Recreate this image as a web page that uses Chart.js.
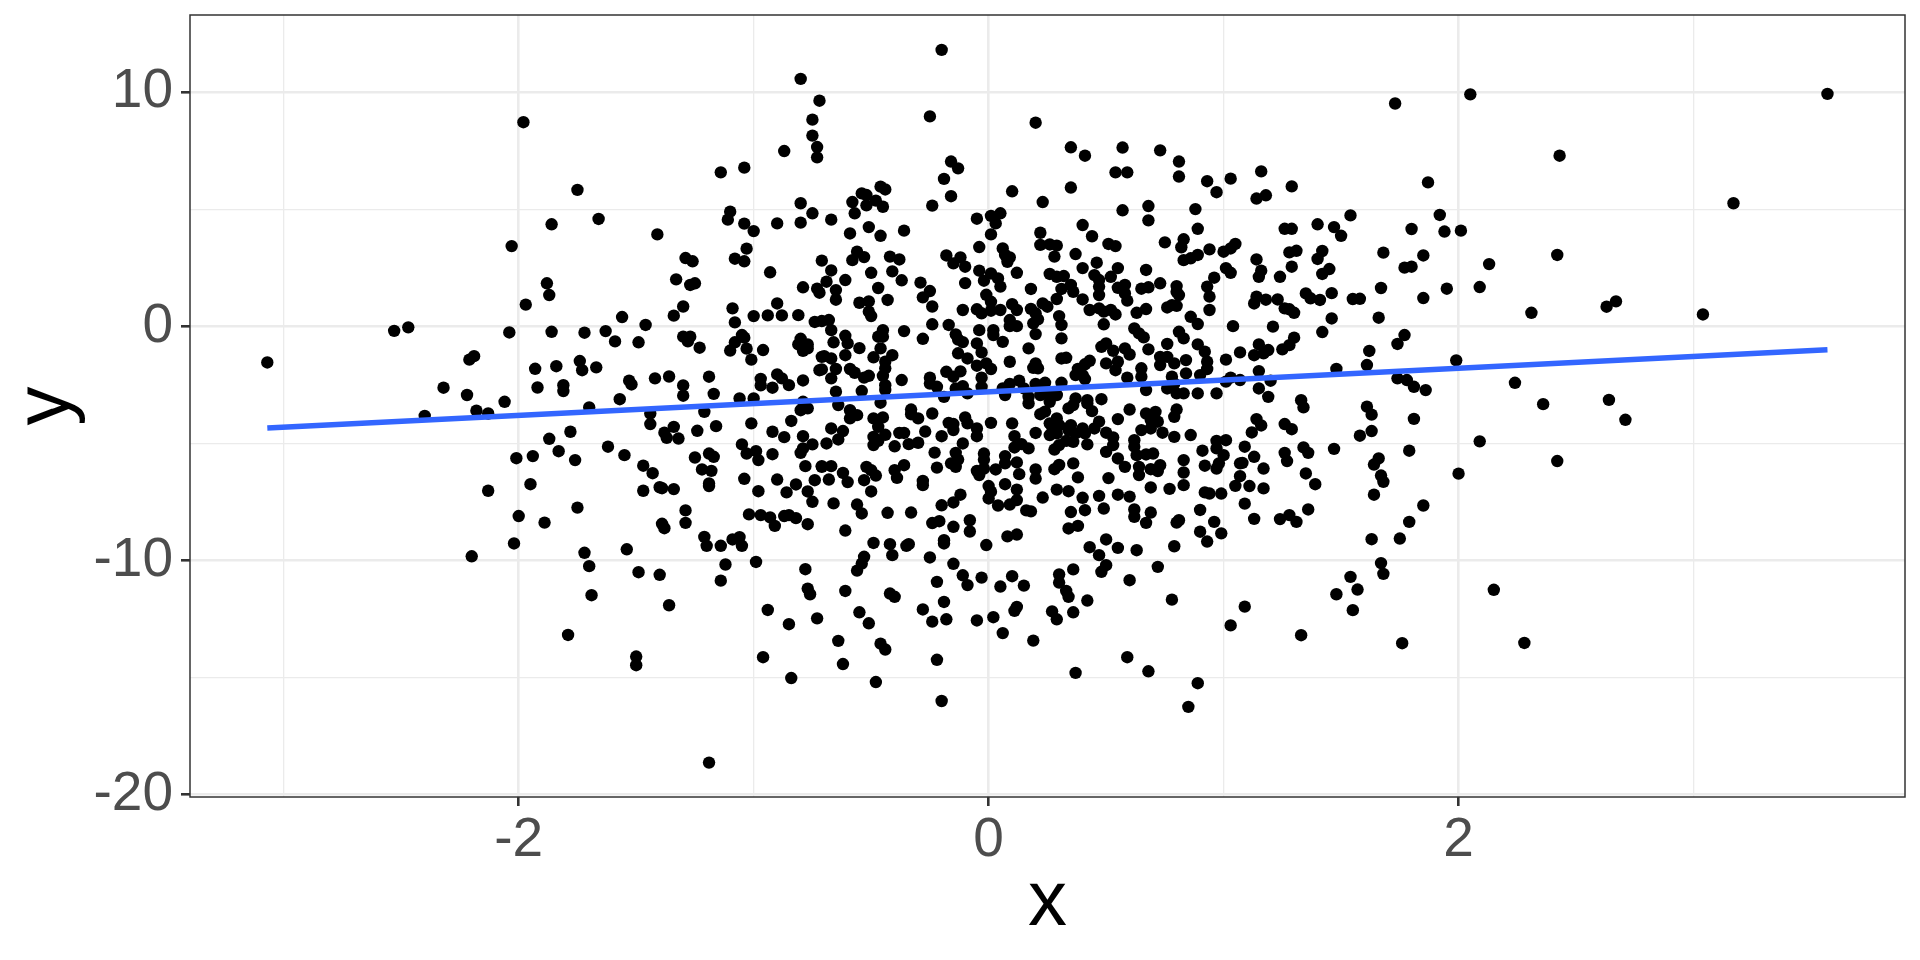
<!DOCTYPE html>
<html>
<head>
<meta charset="utf-8">
<script src="https://cdn.jsdelivr.net/npm/chart.js@4"></script>
<style>
  html, body { margin: 0; padding: 0; background: #fff; }
  #wrap { width: 1920px; height: 960px; }
</style>
</head>
<body>
<div id="wrap"><canvas id="scatter"></canvas></div>
<script>
const xValues = [
-3.07,-1.98,-1.75,-1.66,-1.86,-2.03,-1.41,-1.14,-1.04,-0.87,
-0.80,-0.72,-0.75,-0.75,-0.73,-0.73,-0.80,-0.75,-1.10,-1.11,
-1.04,-1.00,-0.90,-0.80,-1.03,-1.08,-1.04,-1.29,-1.26,-1.33,
-1.27,-1.25,-0.93,-0.79,-0.73,-0.71,-1.88,-1.87,-1.97,-1.56,
-1.30,-1.34,-1.09,-0.90,-1.00,-0.94,-0.88,-0.81,-0.74,-1.08,
-1.46,-2.47,-2.53,-2.04,-1.86,-1.72,-1.63,-1.59,-1.49,-1.30,
-1.27,-1.28,-1.23,-1.05,-1.04,-1.08,-1.10,-1.03,-0.96,-1.01,
-0.80,-0.81,-0.77,-0.79,-0.77,-0.71,-0.71,-2.19,-2.21,-1.93,
-1.84,-1.74,-1.73,-1.67,-2.32,-2.22,-2.06,-1.92,-1.81,-1.81,
-1.53,-1.52,-1.42,-1.36,-1.30,-1.30,-1.19,-1.17,-1.06,-1.00,
-0.97,-0.97,-0.92,-0.90,-0.88,-0.85,-0.79,-1.57,-0.79,
-2.40,-2.18,-2.13,-1.70,-1.44,-1.44,-1.21,-1.16,-1.34,-1.38,
-1.37,-1.32,-1.24,-1.01,-0.92,-0.84,-0.80,-0.77,-0.87,-0.79,
-1.78,-1.87,-1.83,-2.01,-1.94,-1.76,-1.62,-1.55,-1.47,-1.43,
-1.25,-1.19,-1.17,-1.22,-1.18,-1.05,-1.03,-0.99,-0.98,-0.92,
-0.75,-0.79,-0.80,-0.78,-0.71,-1.04,-0.90,-0.82,-0.74,-0.77,
-0.75,-0.86,-0.98,-1.19,-1.19,-1.47,-1.40,-1.39,-1.34,-2.13,
-1.95,-1.75,-2.00,-1.89,-2.02,-2.20,-1.72,-1.70,-1.54,-1.49,
-1.40,-1.69,-1.36,-1.79,-1.50,-1.50,-1.19,-1.29,-1.29,-1.39,
-1.38,-1.21,-1.20,-1.14,-1.09,-1.06,-1.05,-1.12,-1.14,-0.99,
-1.02,-0.97,-0.93,-0.91,-0.87,-0.85,-0.82,-0.77,-0.78,-0.77,
-0.76,-0.94,-0.85,-0.73,-0.96,-0.84,
-0.20,-0.25,0.20,1.73,-0.16,-0.13,-0.19,-0.16,-0.24,-0.54,
-0.52,-0.58,-0.46,-0.44,-0.48,-0.52,-0.45,-0.57,-0.67,-0.59,
-0.51,-0.46,-0.36,-0.67,-0.58,-0.56,-0.53,-0.42,-0.38,-0.50,
-0.41,-0.37,-0.61,-0.69,-0.65,-0.65,-0.72,-0.47,-0.43,-0.55,
-0.51,-0.51,-0.50,-0.29,-0.25,-0.28,-0.24,-0.71,-0.68,-0.67,
-0.36,-0.24,-0.17,-0.28,-0.14,-0.13,-0.11,-0.04,-0.18,-0.15,
-0.12,-0.10,-0.10,-0.11,-0.05,0.01,0.05,0.03,0.01,-0.04,
0.06,0.07,0.08,0.09,-0.04,0.01,-0.02,0.04,0.05,0.12,
0.10,0.23,0.35,0.41,0.57,0.73,0.81,0.81,0.54,0.59,
0.35,0.57,0.68,0.68,0.88,0.93,0.97,1.03,1.16,1.14,
1.18,1.29,1.87,1.54,1.92,0.40,0.44,0.51,0.54,0.22,
0.22,0.26,0.29,0.28,0.37,0.46,0.40,0.55,0.67,0.75,
0.83,0.82,0.83,0.86,0.89,0.94,0.89,1.00,1.03,1.05,
1.01,1.03,0.96,1.14,1.16,1.15,1.24,1.26,1.29,1.28,
1.31,1.29,1.40,1.47,1.50,1.42,1.40,1.45,1.42,1.68,
1.80,1.85,1.77,1.80,1.67,1.85,1.66,1.46,1.35,1.37,
1.41,1.55,1.58,1.46,1.42,1.21,1.04,1.14,1.13,1.18,
1.23,1.26,1.28,1.30,0.93,0.94,0.94,0.73,0.68,0.65,
0.58,0.55,0.58,0.59,0.52,0.45,0.47,0.47,0.47,0.40,
0.36,0.35,0.31,0.32,0.29,0.26,0.18,0.29,-0.01,0.01,
-0.05,-0.03,0.01,0.05,0.10,0.12,0.18,0.20,0.23,0.25,
0.21,0.19,0.20,0.30,0.31,0.31,0.09,0.09,0.12,0.02,
0.02,0.06,0.43,0.47,0.49,0.52,0.54,0.49,0.63,0.67,
0.62,0.64,0.66,0.81,0.83,0.76,0.80,0.78,0.80,0.80,
0.81,0.86,0.89,0.76,0.89,0.92,0.68,0.50,0.48,0.53,
0.58,0.60,0.17,0.09,-0.05,-0.03,-0.13,-0.09,-0.05,-0.01,
0.01,-0.03,-0.18,-0.15,-0.12,-0.55,-0.61,-0.66,-0.60,-0.70,
-0.67,-0.61,-0.65,-0.72,-0.67,-0.59,-0.57,-0.53,-0.51,-0.47,
-0.45,-0.45,-0.46,-0.49,-0.41,-0.44,-0.44,-0.45,-0.44,-0.44,
-0.37,-0.25,-0.25,-0.22,-0.65,-0.54,-0.14,-0.11,-0.09,-0.19,
-0.03,0.31,0.33,0.20,0.19,0.21,0.43,0.41,0.38,0.37,
0.41,0.40,0.50,0.55,0.54,0.59,0.65,0.65,0.73,0.76,
0.73,0.79,0.84,0.84,0.78,0.93,0.93,0.90,1.01,1.07,
1.15,1.13,1.17,1.19,1.25,1.28,1.30,1.62,1.61,1.74,
1.77,1.48,1.15,1.03,1.07,1.01,1.20,1.15,1.19,1.74,
1.78,1.81,1.86,0.97,0.89,0.79,0.76,0.80,0.83,0.67,
0.31,0.24,0.20,0.13,0.09,0.06,0.15,0.07,0.17,0.22,
0.26,0.29,0.37,0.42,0.48,1.33,
2.05,2.43,3.57,3.17,2.01,1.94,2.13,2.09,1.95,2.42,
2.31,2.63,2.67,3.04,1.99,2.24,2.36,2.64,
2.71,2.09,2.42,2.00,1.85,1.79,1.75,1.63,1.67,1.68,
1.54,1.57,1.48,1.55,1.33,1.76,2.15,2.28,1.81,1.79,
1.66,1.64,1.67,1.68,1.64,1.63,1.61,1.63,1.58,1.47,
1.34,1.36,1.26,1.27,1.35,1.39,1.36,1.28,1.31,1.24,
1.34,1.26,1.29,
-0.46,-0.64,-0.59,-0.56,-0.59,-0.33,-0.33,-0.30,-0.24,-0.49,
-0.45,-0.47,-0.67,-0.62,-0.64,-0.69,-0.49,-0.44,-0.47,-0.49,
-0.40,-0.34,-0.30,-0.38,-0.36,-0.27,-0.20,-0.23,-0.11,-0.17,
-0.15,-0.15,-0.10,-0.09,-0.05,-0.05,0.01,0.10,0.20,0.11,
0.14,0.11,0.17,-0.02,-0.02,-0.14,-0.13,-0.16,-0.14,-0.22,
0.07,0.12,0.07,0.03,-0.02,-0.05,-0.04,0.13,0.20,0.20,
0.07,0.00,0.01,0.00,0.12,0.12,0.09,0.04,0.23,0.29,
0.34,0.38,0.36,0.30,0.28,0.40,0.47,0.51,0.55,0.60,
0.49,0.41,0.35,0.16,0.18,0.38,0.34,0.12,0.08,-0.01,
-0.08,-0.08,-0.15,-0.21,-0.24,-0.19,-0.19,-0.25,-0.15,-0.11,
-0.09,-0.03,-0.22,-0.19,-0.28,-0.24,-0.18,-0.05,0.02,0.06,
0.19,0.05,0.10,0.15,0.12,0.11,0.27,0.29,0.36,0.42,
0.30,0.30,0.33,0.34,0.36,0.50,0.48,0.43,0.47,0.50,
0.55,0.63,0.60,0.72,0.78,0.79,0.80,0.81,0.67,0.62,
0.62,0.69,0.90,0.96,0.90,0.93,0.99,1.09,1.13,1.09,
1.03,0.59,0.68,0.37,0.89,0.85,-0.20,-0.22,-0.48,-0.62,
-0.64,-0.46,-0.44,-0.51,-0.55,-0.61,-0.42,-0.40,-0.56,-0.54,
-0.53,-0.41,-0.42,-0.35,-0.34,-0.49,-0.61,-0.43,-0.33,-0.56,
-0.54,-0.66,-0.50,-0.53,-0.60,-0.62,-0.68,-0.71,-0.67,-0.52,
-0.50,-0.48,-0.36,-0.40,-0.39,-0.28,-0.28,-0.12,-0.15,-0.20,
0.26,0.29,0.27,0.30,0.26,0.29,0.35,0.34,0.40,0.37,
0.41,0.45,0.47,0.50,0.53,0.53,0.50,0.55,0.58,0.65,
0.69,0.72,0.67,0.71,0.69,0.74,0.79,0.79,0.80,0.60,
0.55,0.44,0.42,0.36,0.34,0.24,0.22,0.17,0.26,0.86,
1.01,0.97,0.97,0.91,1.09,1.13,1.00,0.98,0.97,0.92,
0.83,0.83,0.83,0.77,0.69,0.64,0.64,0.62,0.62,0.63,
0.67,0.70,0.69,0.72,0.73,1.07,1.08,1.07,1.17,1.17,
1.11,1.05,0.99,0.94,0.92,1.12,1.14,1.16,0.36,0.42,
0.33,0.30,0.28
];
const yValues = [
-1.54,8.72,5.83,4.59,4.36,3.43,3.93,6.58,6.78,7.49,
10.57,9.64,8.83,8.15,7.66,7.22,5.26,4.83,4.90,4.56,
4.39,4.07,4.40,4.43,3.32,2.89,2.78,2.92,2.78,2.01,
1.77,1.84,2.31,1.67,1.61,2.81,1.84,1.34,0.93,0.40,
0.85,0.46,0.77,0.98,0.44,0.47,0.47,0.48,0.19,0.17,
0.06,-0.04,-0.19,-0.26,-0.23,-0.27,-0.20,-0.64,-0.68,-0.44,
-0.44,-0.64,-0.91,-0.37,-0.48,-0.68,-1.03,-0.95,-1.01,-1.42,
-0.53,-0.77,-0.77,-1.04,-0.94,-1.30,-1.84,-1.27,-1.42,-1.81,
-1.70,-1.48,-1.87,-1.75,-2.62,-2.93,-3.22,-2.61,-2.51,-2.76,
-2.32,-2.48,-2.22,-2.14,-2.52,-2.96,-2.15,-2.88,-3.08,-3.08,
-2.24,-2.52,-2.62,-2.05,-2.22,-2.51,-2.31,-3.11,-3.22,
-3.82,-3.60,-3.72,-3.46,-3.72,-4.17,-3.65,-4.26,-4.29,-4.54,
-4.76,-4.79,-4.46,-4.14,-4.50,-4.04,-3.58,-3.50,-4.73,-4.69,
-4.50,-4.80,-5.33,-5.63,-5.54,-5.71,-5.14,-5.50,-5.95,-6.27,
-5.60,-5.43,-5.57,-6.11,-6.17,-5.04,-5.43,-5.33,-5.71,-5.46,
-5.04,-5.21,-5.40,-5.97,-6.00,-6.51,-6.54,-6.75,-6.57,-7.05,
-7.49,-7.09,-7.04,-6.71,-6.82,-7.02,-6.87,-6.91,-6.95,-7.02,
-6.74,-7.74,-8.10,-8.38,-9.27,-9.82,-9.67,-10.24,-9.52,-10.50,
-10.61,-11.48,-11.91,-13.18,-14.10,-14.47,-18.63,-7.86,-8.39,-8.43,
-8.62,-8.99,-9.37,-9.37,-9.10,-9.00,-9.37,-10.17,-10.86,-10.06,
-8.03,-8.06,-8.16,-8.52,-8.10,-8.06,-8.19,-8.45,-10.37,-11.20,
-11.44,-12.11,-12.72,-12.47,-14.13,-15.02,
11.81,8.97,8.70,9.52,7.04,6.75,6.30,5.56,5.16,5.68,
5.61,5.31,5.97,5.85,5.37,5.17,5.11,4.83,4.56,3.97,
4.24,3.87,4.09,2.39,2.83,3.19,2.96,2.98,2.86,2.29,
2.35,1.97,1.98,1.91,1.55,1.14,1.44,1.64,1.13,1.01,
1.07,0.63,0.44,1.87,1.51,1.24,0.85,0.23,0.27,-0.16,
-0.20,0.09,0.06,-0.53,-0.34,-0.56,-0.67,-0.16,3.03,2.69,
2.95,2.55,1.85,0.70,4.60,4.72,4.83,4.40,3.93,3.39,
3.33,3.05,2.76,2.95,2.38,2.26,1.95,2.05,1.70,2.29,
5.77,5.31,7.65,7.29,7.64,7.52,7.04,6.40,6.58,6.58,
5.93,4.96,5.14,4.53,5.01,6.20,5.73,6.31,6.62,5.46,
5.60,5.98,6.15,4.74,4.76,4.33,3.85,3.52,3.43,4.00,
3.48,3.50,3.45,2.98,3.09,2.72,2.49,2.49,2.41,3.59,
3.72,3.38,2.83,2.91,3.05,3.29,4.17,3.19,3.33,3.52,
2.49,2.29,2.08,2.86,2.38,2.12,2.12,4.17,4.17,3.16,
3.23,2.55,4.36,4.24,3.87,3.22,2.88,2.45,2.24,3.15,
4.16,3.03,2.51,2.55,1.64,1.21,0.37,1.42,1.41,1.20,
1.13,1.17,1.18,0.34,-0.24,-0.01,0.01,1.27,0.98,1.14,
1.15,0.77,0.73,0.58,1.70,1.27,0.70,1.84,1.67,1.61,
1.77,1.65,1.41,1.10,2.12,2.19,1.98,1.70,1.34,1.15,
1.48,1.77,1.60,2.15,2.12,2.24,1.60,1.17,1.35,1.05,
0.73,0.56,0.67,0.70,0.95,0.70,0.75,0.56,0.98,0.84,
0.30,0.13,-0.33,0.44,0.06,-0.51,0.27,0.01,0.01,-0.16,
-0.37,-0.66,0.70,0.77,0.63,0.70,0.51,0.09,0.58,0.74,
-0.09,-0.30,-0.47,-0.23,-0.51,0.81,0.88,0.91,1.48,1.72,
1.34,0.41,0.10,-0.75,-0.77,-1.08,-0.98,-0.73,-0.87,-1.04,
-0.94,-1.20,-0.94,-1.51,-0.73,-1.11,-1.15,-1.37,-1.68,-1.58,
-1.82,-2.19,-1.94,-2.15,-1.92,-0.93,-0.40,-0.68,-0.73,-1.27,
-1.37,-1.23,-1.82,-1.87,-2.22,-1.82,-1.98,-2.19,-2.11,-0.44,
-0.16,-0.44,-0.94,-1.32,-1.23,-1.51,-1.79,-2.11,-2.51,-2.72,
-2.29,-2.19,-2.44,-2.58,-2.79,-2.76,-2.65,-2.55,-2.86,-3.01,
-2.58,-1.37,-1.34,-1.58,-1.77,-1.79,-1.47,-1.62,-1.82,-2.08,
-2.25,-2.08,-1.58,-1.51,-1.87,-2.19,-1.79,-2.15,-1.30,-1.30,
-1.65,-1.58,-1.44,-2.01,-2.15,-1.51,-1.82,-2.08,-1.42,-1.11,
-0.77,-1.23,-1.15,-1.01,-0.98,-0.80,-0.48,-1.05,-1.65,-0.75,
-0.37,-1.82,-1.91,-2.19,-2.29,-2.36,-2.32,-2.65,-3.01,-2.22,
-2.29,-2.58,-2.72,-2.86,-2.86,-2.44,-2.65,-2.86,-2.86,-2.72,
-2.41,-2.41,-2.46,-2.32,-2.46,-2.65,-2.65,-2.93,-3.01,-2.93,
-2.93,-2.93,-3.08,-3.15,-3.11,-3.15,
9.91,7.29,9.93,5.26,4.09,4.05,2.66,1.68,1.61,3.05,
0.58,0.84,1.07,0.51,-1.45,-2.41,-3.32,-3.14,
-3.99,-4.91,-5.75,-6.29,-7.65,-8.35,-9.06,-9.09,-10.11,-10.57,
-10.70,-11.24,-11.44,-12.12,-13.19,-13.53,-11.25,-13.52,-3.95,-5.31,
-5.64,-5.90,-6.37,-6.64,-7.19,-3.77,-3.43,-4.47,-4.67,-5.23,
-5.17,-5.40,-5.40,-5.75,-6.28,-6.74,-7.82,-8.06,-8.35,-8.23,
-3.46,-4.17,-4.39,
-3.26,-3.36,-3.58,-3.79,-3.93,-3.55,-3.75,-3.93,-3.72,-3.93,
-3.89,-4.29,-4.36,-4.47,-4.83,-5.00,-4.72,-4.63,-4.89,-5.07,
-5.12,-5.03,-4.97,-4.55,-4.55,-4.49,-4.69,-5.39,-5.00,-4.12,
-4.17,-4.43,-3.89,-4.14,-4.36,-4.69,-4.12,-4.14,-4.55,-4.69,
-5.03,-5.17,-5.21,-5.43,-5.69,-5.40,-5.69,-5.85,-6.00,-6.03,
-5.54,-5.81,-5.85,-6.11,-6.07,-6.17,-6.35,-6.31,-6.11,-6.50,
-6.74,-6.82,-7.06,-7.35,-6.97,-7.42,-7.61,-7.65,-7.31,-6.97,
-7.04,-6.45,-5.85,-5.92,-6.10,-7.32,-7.24,-6.48,-7.19,-7.27,
-7.78,-7.85,-7.93,-7.86,-7.90,-8.52,-8.63,-8.89,-8.97,-9.34,
-8.28,-8.76,-8.56,-8.32,-8.40,-9.13,-9.27,-9.87,-10.14,-10.63,
-11.05,-10.73,-10.91,-11.77,-12.09,-12.61,-12.51,-12.56,-12.42,-13.10,
-13.42,-11.11,-10.67,-11.07,-11.98,-12.15,-12.17,-12.51,-12.21,-11.71,
-10.59,-10.94,-11.30,-11.55,-10.38,-10.20,-10.48,-9.43,-9.77,-9.10,
-9.46,-9.56,-10.84,-10.27,-11.67,-9.39,-8.38,-8.28,-8.39,-7.82,
-8.13,-7.95,-7.84,-8.35,-8.77,-9.19,-8.84,-7.57,-8.22,-11.97,
-12.77,-14.13,-14.73,-14.80,-15.24,-16.25,-16.00,-14.24,-15.19,-14.42,
-13.43,-13.55,-13.80,-12.68,-12.21,-11.30,-11.41,-11.55,-10.43,-10.13,
-9.84,-9.77,-9.30,-9.37,-9.30,-9.25,-8.72,-7.96,-7.95,-7.61,
-7.99,-7.56,-7.05,-6.57,-6.65,-6.26,-6.54,-5.97,-5.97,-6.00,
-6.14,-6.37,-5.93,-6.14,-6.47,-6.60,-6.78,-7.19,-7.52,-7.64,
-4.14,-3.93,-4.29,-4.22,-4.64,-4.57,-4.22,-4.43,-4.36,-4.57,
-4.57,-4.36,-4.07,-4.54,-4.74,-5.07,-5.36,-5.64,-6.00,-4.43,
-4.36,-4.07,-3.72,-3.65,-4.00,-4.54,-4.72,-3.86,-3.55,-3.55,
-3.96,-3.62,-3.29,-3.36,-3.50,-3.64,-3.75,-3.29,-3.22,-4.64,
-4.86,-4.89,-5.21,-5.31,-5.14,-5.57,-5.50,-5.85,-6.07,-5.95,
-5.71,-6.24,-6.78,-6.94,-6.88,-6.00,-6.35,-4.86,-5.14,-5.50,
-5.47,-5.43,-6.10,-6.18,-5.93,-5.85,-5.83,-6.40,-6.07,-6.92,
-6.82,-6.81,-7.14,-7.14,-7.09,-4.53,-3.96,-4.23,-4.93,-5.04,
-4.89,-5.07,-5.26
];
// fitted line, ends
const smoothX = [-3.07, 3.57];
const smoothY = [-4.34, -1.0];
const xTickValues = [-3, -2, -1, 0, 1, 2, 3];
const yTickValues = [-20, -15, -10, -5, 0, 5, 10];
const xMajor = [-2, 0, 2];
const yMajor = [-20, -10, 0, 10];

const labelFont = { family: '"Liberation Sans"', size: 55 };
const titleFont = { family: '"Liberation Sans"', size: 78 };

function gridFor(major) {
    return {
        color: '#EBEBEB',
        lineWidth: c => major.includes(c.tick.value) ? 2.6 : 1.3,
        tickColor: c => major.includes(c.tick.value) ? '#333333' : 'rgba(0,0,0,0)',
        tickWidth: 2.6,
        tickLength: 9
    };
}

const panelBorder = {
    id: 'panelBorder',
    afterDraw(chart) {
        const a = chart.chartArea;
        const c = chart.ctx;
        c.save();
        c.strokeStyle = '#333333';
        c.lineWidth = 1.5;
        c.strokeRect(a.left, a.top, a.right - a.left, a.bottom - a.top);
        c.restore();
    }
};

new Chart(document.getElementById('scatter'), {
    type: 'scatter',
    data: {
        datasets: [{
            type: 'line',
            data: smoothX.map((x, i) => ({ x: x, y: smoothY[i] })),
            borderColor: '#3366FF',
            borderWidth: 5.5,
            pointRadius: 0,
            fill: false
        }, {
            data: xValues.map((x, i) => ({ x: x, y: yValues[i] })),
            backgroundColor: '#000000',
            borderWidth: 0,
            pointRadius: 6.2
        }]
    },
    plugins: [panelBorder],
    options: {
        responsive: true,
        maintainAspectRatio: false,
        animation: false,
        devicePixelRatio: 1,
        layout: { padding: { top: 15, right: 15, left: 0, bottom: 0 } },
        plugins: { legend: { display: false }, tooltip: { enabled: false } },
        scales: {
            x: {
                type: 'linear',
                min: -3.399,
                max: 3.9,
                afterBuildTicks: s => { s.ticks = xTickValues.map(v => ({ value: v })); },
                afterFit: s => { s.height = 163; s.paddingLeft = 0; s.paddingRight = 0; },
                border: { display: false },
                grid: gridFor(xMajor),
                ticks: {
                    autoSkip: false,
                    maxRotation: 0,
                    color: '#4D4D4D',
                    font: labelFont,
                    padding: 2,
                    callback: v => xMajor.includes(v) ? String(v) : ''
                },
                title: { display: true, text: 'x', color: '#000000', font: titleFont, padding: { top: 2, bottom: 10 } }
            },
            y: {
                type: 'linear',
                min: -20.1,
                max: 13.3,
                afterBuildTicks: s => { s.ticks = yTickValues.map(v => ({ value: v })); },
                afterFit: s => { s.width = 190; s.paddingTop = 0; s.paddingBottom = 0; },
                border: { display: false },
                grid: gridFor(yMajor),
                ticks: {
                    autoSkip: false,
                    color: '#4D4D4D',
                    font: labelFont,
                    padding: 8,
                    callback: v => yMajor.includes(v) ? String(v) : ''
                },
                title: { display: true, text: 'y', color: '#000000', font: titleFont, padding: { top: 1, bottom: 0 } }
            }
        }
    }
});
</script>
</body>
</html>
